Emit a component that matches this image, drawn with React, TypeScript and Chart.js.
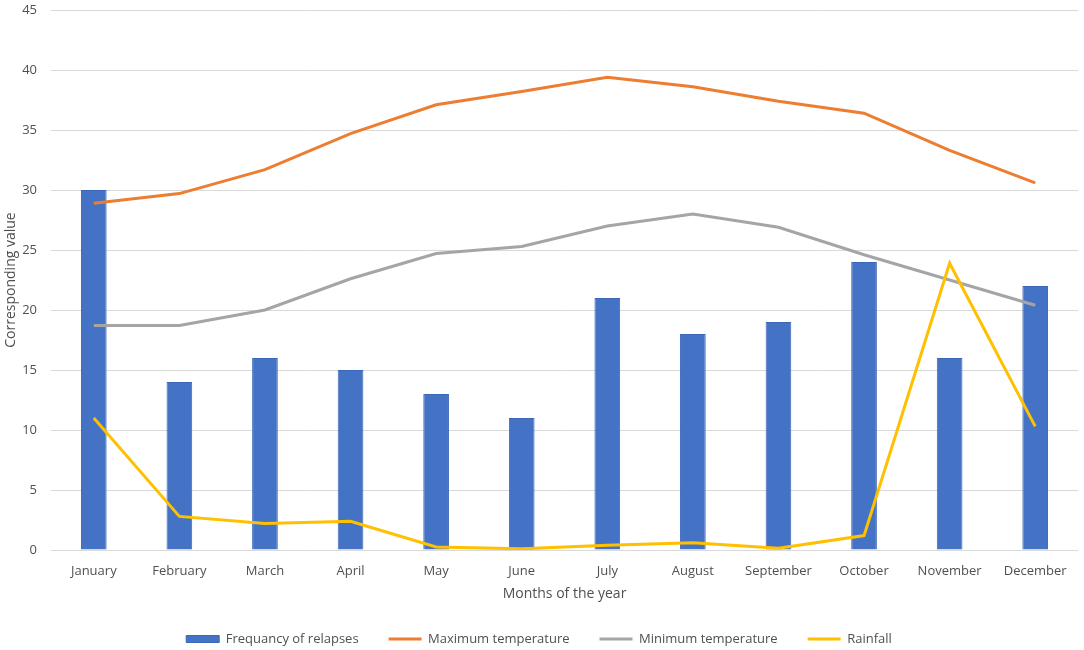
import React, { useEffect, useRef } from "react";
import { Chart, registerables } from "chart.js";

Chart.register(...registerables);

const months = [
  "January", "February", "March", "April", "May", "June",
  "July", "August", "September", "October", "November", "December",
];
const relapses = [30, 14, 16, 15, 13, 11, 21, 18, 19, 24, 16, 22];
const maxTemp = [28.9, 29.7, 31.7, 34.7, 37.1, 38.2, 39.4, 38.6, 37.4, 36.4, 33.3, 30.6];
const minTemp = [18.7, 18.7, 20, 22.6, 24.7, 25.3, 27, 28, 26.9, 24.6, 22.5, 20.4];
const rainfall = [11, 2.8, 2.2, 2.4, 0.25, 0.1, 0.4, 0.6, 0.15, 1.2, 23.9, 10.3];

const FONT = "'Open Sans', sans-serif";
const TEXT = "#505050";

const App: React.FC = () => {
  const canvas = useRef<HTMLCanvasElement>(null);

  useEffect(() => {
    document.body.style.margin = "0";
    const chart = new Chart(canvas.current!.getContext("2d")!, {
      type: "bar",
      data: {
        labels: months,
        datasets: [
          {
            type: "bar",
            label: "Frequancy of relapses",
            data: relapses,
            backgroundColor: "#4472C4",
            borderColor: "#3B67B8",
            borderWidth: 1,
            barPercentage: 0.3,
            categoryPercentage: 1,
            pointStyle: "rect",
            order: 3,
          },
          {
            type: "line",
            label: "Maximum temperature",
            data: maxTemp,
            borderColor: "#ED7D31",
            backgroundColor: "#ED7D31",
            borderWidth: 3,
            pointRadius: 0,
            pointStyle: "line",
            order: 2,
          },
          {
            type: "line",
            label: "Minimum temperature",
            data: minTemp,
            borderColor: "#A5A5A5",
            backgroundColor: "#A5A5A5",
            borderWidth: 3,
            pointRadius: 0,
            pointStyle: "line",
            order: 1,
          },
          {
            type: "line",
            label: "Rainfall",
            data: rainfall,
            borderColor: "#FFC000",
            backgroundColor: "#FFC000",
            borderWidth: 3,
            pointRadius: 0,
            pointStyle: "line",
            order: 0,
          },
        ] as any,
      },
      options: {
        animation: false,
        responsive: true,
        maintainAspectRatio: false,
        layout: {
          padding: { top: 10, right: 6, left: 0, bottom: 0 },
        },
        scales: {
          x: {
            offset: true,
            grid: { display: false, drawTicks: false },
            border: { display: false },
            ticks: {
              color: TEXT,
              padding: 13,
              maxRotation: 0,
              font: { family: FONT, size: 13 },
            },
            title: {
              display: true,
              text: "Months of the year",
              color: TEXT,
              padding: { top: 0, bottom: 0 },
              font: { family: FONT, size: 14 },
            },
            afterFit: (scale: any) => {
              scale.height = 52.5;
              scale.paddingLeft = 0;
              scale.paddingRight = 0;
            },
          },
          y: {
            min: 0,
            max: 45,
            ticks: {
              stepSize: 5,
              color: TEXT,
              padding: 14,
              font: { family: FONT, size: 13 },
            },
            grid: { color: "#D9D9D9", lineWidth: 1, drawTicks: false },
            border: { display: false },
            title: {
              display: true,
              text: "Corresponding value",
              color: TEXT,
              padding: { top: 3, bottom: 0 },
              font: { family: FONT, size: 14 },
            },
            afterFit: (scale: any) => {
              scale.width = 51;
              scale.paddingTop = 0;
              scale.paddingBottom = 0;
            },
          },
        },
        plugins: {
          legend: {
            position: "bottom",
            maxHeight: 47.5,
            labels: {
              usePointStyle: true,
              pointStyleWidth: 33,
              boxHeight: 7,
              padding: 30,
              color: TEXT,
              font: { family: FONT, size: 13 },
              sort: (a: any, b: any) => a.datasetIndex - b.datasetIndex,
            },
          },
          tooltip: { enabled: false },
        },
      },
    });

    return () => {
      chart.destroy();
    };
  }, []);

  return (
    <div style={{ width: 1084, height: 650, position: "relative" }}>
      <canvas ref={canvas}></canvas>
    </div>
  );
};

export default App;
